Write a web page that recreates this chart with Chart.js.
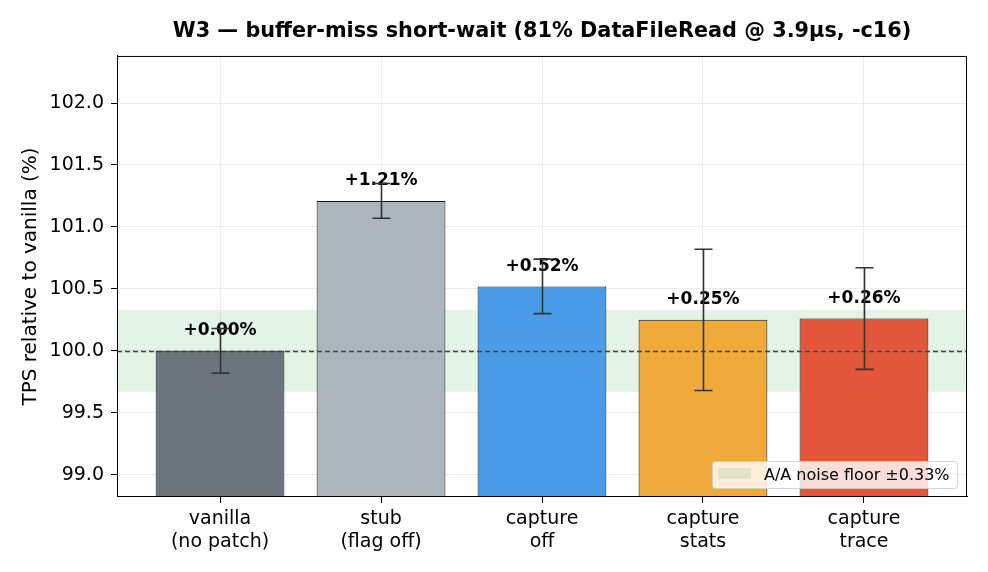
<!DOCTYPE html>
<html>
<head>
<meta charset="utf-8">
<script src="https://cdn.jsdelivr.net/npm/chart.js@4.4.1/dist/chart.umd.min.js"></script>
<style>
  html, body { margin: 0; padding: 0; background: #fff; }
  #wrap { width: 988px; height: 572px; }
</style>
</head>
<body>
<div id="wrap"><canvas id="w3Chart" width="988" height="572"></canvas></div>
<script>
// data
const categories = [['vanilla', '(no patch)'], ['stub', '(flag off)'], ['capture', 'off'], ['capture', 'stats'], ['capture', 'trace']];
const tpsRelative = [100.00, 101.21, 100.52, 100.25, 100.26];
const tpsError = [0.18, 0.14, 0.22, 0.57, 0.41];
const barColors = ['#6c757d', '#adb5bd', '#4a9be8', '#f0aa3c', '#e2573c'];
const yTicks = [99.0, 99.5, 100.0, 100.5, 101.0, 101.5, 102.0];
const yRange = [98.82, 102.38];
const baseline = 100.0;
const noiseFloor = 0.33;

const fontFamily = '"DejaVu Sans", sans-serif';
Chart.defaults.font.family = fontFamily;
Chart.defaults.color = '#000';

const overlay = {
    id: 'overlay',
    beforeDatasetsDraw(chart) {
        const { ctx, chartArea, scales } = chart;
        const y = scales.y;
        const top = y.getPixelForValue(baseline + noiseFloor);
        const bottom = y.getPixelForValue(baseline - noiseFloor);
        ctx.save();
        ctx.fillStyle = 'rgba(40, 167, 69, 0.13)';
        ctx.fillRect(chartArea.left, top, chartArea.right - chartArea.left, bottom - top);
        ctx.restore();
    },
    afterDatasetsDraw(chart) {
        const { ctx, chartArea, scales } = chart;
        const x = scales.x;
        const y = scales.y;
        ctx.save();

        // baseline
        const by = Math.round(y.getPixelForValue(baseline)) + 0.5;
        ctx.strokeStyle = '#444';
        ctx.lineWidth = 1.3;
        ctx.setLineDash([5, 3]);
        ctx.beginPath();
        ctx.moveTo(chartArea.left, by);
        ctx.lineTo(chartArea.right, by);
        ctx.stroke();
        ctx.setLineDash([]);

        // value labels
        ctx.font = 'bold 17px ' + fontFamily;
        ctx.fillStyle = '#000';
        ctx.textAlign = 'center';
        ctx.textBaseline = 'middle';
        tpsRelative.forEach((v, i) => {
            const d = v - baseline;
            const txt = (d >= 0 ? '+' : '') + d.toFixed(2) + '%';
            ctx.fillText(txt, x.getPixelForValue(i), y.getPixelForValue(v) - 20);
        });

        // error bars
        ctx.strokeStyle = '#333';
        ctx.lineWidth = 1.6;
        tpsRelative.forEach((v, i) => {
            const cx = Math.round(x.getPixelForValue(i)) + 0.5;
            const hi = y.getPixelForValue(v + tpsError[i]);
            const lo = y.getPixelForValue(v - tpsError[i]);
            ctx.beginPath();
            ctx.moveTo(cx, hi); ctx.lineTo(cx, lo);
            ctx.moveTo(cx - 9, hi); ctx.lineTo(cx + 9, hi);
            ctx.moveTo(cx - 9, lo); ctx.lineTo(cx + 9, lo);
            ctx.stroke();
        });

        // legend, lower right inside the axes
        const lw = 245, lh = 27;
        const lx = chartArea.right - 10 - lw;
        const ly = chartArea.bottom - 9 - lh;
        ctx.fillStyle = 'rgba(255, 255, 255, 0.8)';
        ctx.strokeStyle = 'rgba(204, 204, 204, 0.8)';
        ctx.lineWidth = 1;
        ctx.beginPath();
        ctx.roundRect(lx + 0.5, ly + 0.5, lw, lh, 3);
        ctx.fill();
        ctx.stroke();
        ctx.fillStyle = 'rgba(40, 167, 69, 0.13)';
        ctx.fillRect(lx + 6, ly + 7, 33, 11);
        ctx.font = '16px ' + fontFamily;
        ctx.fillStyle = '#000';
        ctx.textAlign = 'left';
        ctx.fillText('A/A noise floor \u00b10.33%', lx + 52, ly + lh / 2 + 1);

        // frame
        ctx.strokeStyle = '#000';
        ctx.lineWidth = 1;
        ctx.strokeRect(chartArea.left + 0.5, chartArea.top + 0.5, chartArea.right - chartArea.left - 1, chartArea.bottom - chartArea.top - 1);
        ctx.restore();
    }
};

new Chart(document.getElementById('w3Chart').getContext('2d'), {
    type: 'bar',
    data: {
        datasets: [{
            label: 'TPS relative to vanilla',
            data: tpsRelative.map((v, i) => ({ x: i, y: v })),
            backgroundColor: barColors,
            borderColor: '#111',
            borderWidth: 1,
            barPercentage: 0.8,
            categoryPercentage: 1.0
        }]
    },
    options: {
        responsive: false,
        animation: false,
        layout: { padding: { left: 0, right: 21, top: 0, bottom: 0 } },
        scales: {
            x: {
                type: 'linear',
                offset: false,
                min: -0.64,
                max: 4.64,
                afterBuildTicks: s => { s.ticks = categories.map((c, i) => ({ value: i })); },
                afterFit: s => { s.height = 75; },
                ticks: {
                    font: { size: 19 },
                    color: '#000',
                    padding: 5,
                    callback: v => categories[v]
                },
                grid: { offset: false, color: '#ebebeb', tickColor: '#000', tickLength: 6 },
                border: { color: '#000' }
            },
            y: {
                min: yRange[0],
                max: yRange[1],
                afterBuildTicks: s => { s.ticks = yTicks.map(v => ({ value: v })); },
                afterFit: s => { s.width = 117; },
                ticks: {
                    font: { size: 19 },
                    color: '#000',
                    padding: 7,
                    callback: v => v.toFixed(1)
                },
                grid: { color: '#ebebeb', tickColor: '#000', tickLength: 6 },
                border: { color: '#000' },
                title: {
                    display: true,
                    text: 'TPS relative to vanilla (%)',
                    font: { size: 20 },
                    color: '#000',
                    padding: { top: 19, bottom: 0 }
                }
            }
        },
        plugins: {
            legend: { display: false },
            tooltip: { enabled: false },
            title: {
                display: true,
                fullSize: false,
                text: 'W3 \u2014 buffer-miss short-wait (81% DataFileRead @ 3.9\u00b5s, -c16)',
                color: '#000',
                font: { size: 20.8, weight: 'bold' },
                padding: { top: 19, bottom: 12 }
            }
        }
    },
    plugins: [overlay]
});
</script>
</body>
</html>
